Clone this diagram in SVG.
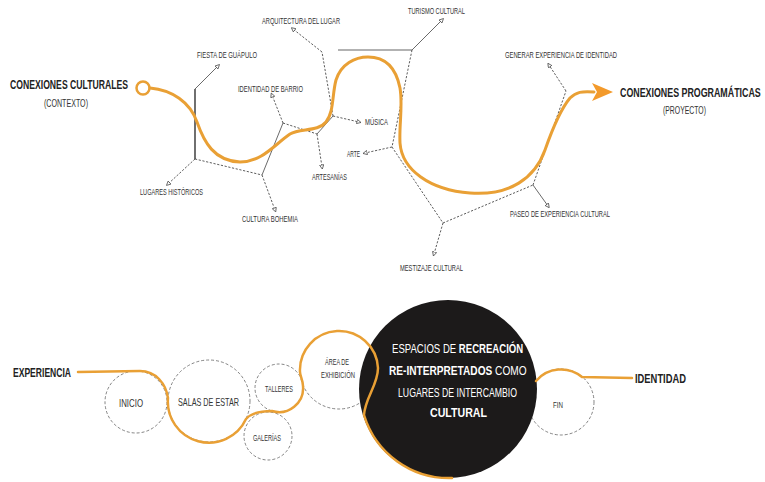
<svg xmlns="http://www.w3.org/2000/svg" width="765" height="482" viewBox="0 0 765 482">
<defs>
<style>
.lbl{font-family:"Liberation Sans",Arial,sans-serif;font-size:9px;fill:#333;}
.big{font-family:"Liberation Sans",Arial,sans-serif;font-size:12px;font-weight:bold;fill:#222;}
.sub{font-family:"Liberation Sans",Arial,sans-serif;font-size:11px;fill:#333;}
.cl{font-family:"Liberation Sans",Arial,sans-serif;fill:#333;}
.wt{font-family:"Liberation Sans",Arial,sans-serif;font-size:13px;fill:#fff;}
.b{font-weight:bold;}
.dl{fill:none;stroke:#333;stroke-width:0.8;stroke-dasharray:2.2 1.6;}
.sl{fill:none;stroke:#444;stroke-width:0.8;}
.dc{fill:none;stroke:#666;stroke-width:0.8;stroke-dasharray:3 2;}
.or{fill:none;stroke:#E9A035;stroke-linecap:round;stroke-linejoin:round;}
</style>
<marker id="tri" viewBox="0 0 6 6" refX="3" refY="3" markerWidth="5" markerHeight="5" markerUnits="userSpaceOnUse" orient="auto">
<path d="M0.5,0.5 L5.5,3 L0.5,5.5 z" fill="#fff" stroke="#333" stroke-width="0.8"/>
</marker>
</defs>
<rect width="765" height="482" fill="#fff"/>

<g id="connectors">
<path d="M195,89 L195,159" fill="none" stroke="#222" stroke-width="1.3"/>
<path class="sl" d="M195,89 L218,66" marker-end="url(#tri)"/>
<path class="dl" d="M195,159 L168,184" marker-end="url(#tri)"/>
<path class="dl" d="M195,159 L262,175"/>
<path class="dl" d="M262,175 L275,210" marker-end="url(#tri)"/>
<path class="sl" d="M262,175 L283,123"/>
<path class="dl" d="M283,123 L272,95" marker-end="url(#tri)"/>
<path class="dl" d="M283,123 L317,134"/>
<path class="dl" d="M317,134 L322,167" marker-end="url(#tri)"/>
<path class="sl" d="M317,134 L333,116"/>
<path class="dl" d="M333,116 L359,122" marker-end="url(#tri)"/>
<path class="dl" d="M333,116 L322,52"/>
<path class="dl" d="M322,52 L293,29" marker-end="url(#tri)"/>
<path d="M338,50 L412,50" fill="none" stroke="#999" stroke-width="1.5"/>
<path class="sl" d="M412,50 L442,20" marker-end="url(#tri)"/>
<path class="dl" d="M412,50 L392,147"/>
<path class="dl" d="M392,147 L365,153" marker-end="url(#tri)"/>
<path class="dl" d="M392,147 L443,223"/>
<path class="dl" d="M443,223 L434,254" marker-end="url(#tri)"/>
<path class="dl" d="M443,223 L533,185"/>
<path class="sl" d="M533,185 L548,206" marker-end="url(#tri)"/>
<path class="dl" d="M533,185 L566,91"/>
<path class="dl" d="M566,91 L549,65" marker-end="url(#tri)"/>
</g>

<g id="flow-top">
<circle cx="143" cy="88" r="6.5" fill="#fff" stroke="#E9A035" stroke-width="2.5"/>
<path class="or" stroke-width="3" d="M150,88 C172,90 190,102 197,122 C204,142 214,161 240,162 C262,162 274,145 290,134 C300,128 318,132 326,122 C334,112 332,95 336,80 C341,64 355,57 368,57 C385,57 396,68 400,88 C403,105 399,125 400,143 C402,170 430,190 470,193 C510,196 535,178 545,150 C552,130 560,110 570,98 C576,92 582,91 594,92"/>
<polygon points="613,92 592,83 597,92 592,101" fill="#F39A2B"/>
</g>

<g id="conexiones-culturales">
<text class="big" x="10" y="89" textLength="118" lengthAdjust="spacingAndGlyphs">CONEXIONES CULTURALES</text>
<text class="sub" x="44" y="107" textLength="44" lengthAdjust="spacingAndGlyphs">(CONTEXTO)</text>
</g>
<g id="conexiones-programaticas">
<text class="big" transform="translate(620,97) scale(0.7,1)" x="0" y="0" textLength="201" lengthAdjust="spacingAndGlyphs">CONEXIONES PROGRAMÁTICAS</text>
<text class="sub" x="663" y="114" textLength="43" lengthAdjust="spacingAndGlyphs">(PROYECTO)</text>
</g>

<g id="fiesta"><text class="lbl" x="197" y="58" textLength="60" lengthAdjust="spacingAndGlyphs">FIESTA DE GUÁPULO</text></g>
<g id="identidad-barrio"><text class="lbl" x="238" y="92" textLength="65" lengthAdjust="spacingAndGlyphs">IDENTIDAD DE BARRIO</text></g>
<g id="lugares"><text class="lbl" x="140" y="195" textLength="63" lengthAdjust="spacingAndGlyphs">LUGARES HISTÓRICOS</text></g>
<g id="bohemia"><text class="lbl" x="242" y="222" textLength="56" lengthAdjust="spacingAndGlyphs">CULTURA BOHEMIA</text></g>
<g id="artesanias"><text class="lbl" x="312" y="180" textLength="35" lengthAdjust="spacingAndGlyphs">ARTESANÍAS</text></g>
<g id="musica"><text class="lbl" x="365" y="125" textLength="23" lengthAdjust="spacingAndGlyphs">MÚSICA</text></g>
<g id="arte"><text class="lbl" x="347" y="157" textLength="13" lengthAdjust="spacingAndGlyphs">ARTE</text></g>
<g id="arquitectura"><text class="lbl" x="262" y="24" textLength="78" lengthAdjust="spacingAndGlyphs">ARQUITECTURA DEL LUGAR</text></g>
<g id="turismo"><text class="lbl" x="408" y="14" textLength="57" lengthAdjust="spacingAndGlyphs">TURISMO CULTURAL</text></g>
<g id="generar"><text class="lbl" x="505" y="58" textLength="112" lengthAdjust="spacingAndGlyphs">GENERAR EXPERIENCIA DE IDENTIDAD</text></g>
<g id="paseo"><text class="lbl" x="510" y="217" textLength="100" lengthAdjust="spacingAndGlyphs">PASEO DE EXPERIENCIA CULTURAL</text></g>
<g id="mestizaje"><text class="lbl" x="400" y="271" textLength="63" lengthAdjust="spacingAndGlyphs">MESTIZAJE CULTURAL</text></g>

<g id="inicio">
<circle class="dc" cx="136" cy="402" r="31"/>
<text class="cl" x="119" y="407" font-size="11" textLength="24" lengthAdjust="spacingAndGlyphs">INICIO</text>
</g>
<g id="salas">
<circle class="dc" cx="209" cy="401" r="41"/>
<text class="cl" x="178" y="406" font-size="11" textLength="61" lengthAdjust="spacingAndGlyphs">SALAS DE ESTAR</text>
</g>
<g id="talleres">
<circle class="dc" cx="279" cy="388" r="24"/>
<text class="cl" x="265" y="392" font-size="9" textLength="28" lengthAdjust="spacingAndGlyphs">TALLERES</text>
</g>
<g id="galerias">
<circle class="dc" cx="268" cy="436" r="24"/>
<text class="cl" x="253" y="441" font-size="9" textLength="28" lengthAdjust="spacingAndGlyphs">GALERÍAS</text>
</g>
<g id="area">
<circle class="dc" cx="339" cy="370" r="39"/>
<text class="cl" x="325" y="365" font-size="9" textLength="24" lengthAdjust="spacingAndGlyphs">ÁREA DE</text>
<text class="cl" x="321" y="378" font-size="9" textLength="34" lengthAdjust="spacingAndGlyphs">EXHIBICIÓN</text>
</g>
<g id="fin">
<circle class="dc" cx="561" cy="402" r="33"/>
<text class="cl" x="553" y="408" font-size="9" textLength="10" lengthAdjust="spacingAndGlyphs">FIN</text>
</g>

<g id="espacios">
<circle cx="448" cy="389" r="89" fill="#1c1a1a"/>
</g>

<g id="flow-bottom">
<path class="or" stroke-width="2.5" d="M78,372 L140,371 C156,371 166,384 168,398 A41,41 0 0 0 246,419 C252,412 262,411 272,411 A24,24 0 0 0 303,386 C303,380 300,376 300,372 A39,39 0 0 1 378,368 C378,385 365,398 364,415 A89,89 0 0 0 452,478"/>
<path class="or" stroke-width="2.5" d="M536,381 A33,33 0 0 1 582,377 L632,378"/>
</g>

<g id="espacios-text">
<text class="wt" transform="translate(392,353) scale(0.8,1)" x="0" y="0" textLength="164" lengthAdjust="spacingAndGlyphs">ESPACIOS DE <tspan class="b">RECREACIÓN</tspan></text>
<text class="wt" transform="translate(389,375) scale(0.8,1)" x="0" y="0" textLength="172" lengthAdjust="spacingAndGlyphs"><tspan class="b">RE-INTERPRETADOS</tspan> COMO</text>
<text class="wt" x="398" y="397" textLength="119" lengthAdjust="spacingAndGlyphs">LUGARES DE INTERCAMBIO</text>
<text class="wt b" x="430" y="417" textLength="57" lengthAdjust="spacingAndGlyphs">CULTURAL</text>
</g>

<g id="experiencia"><text class="big" x="13" y="377" font-size="11" textLength="58" lengthAdjust="spacingAndGlyphs">EXPERIENCIA</text></g>
<g id="identidad"><text class="big" x="635" y="383" font-size="11" textLength="51" lengthAdjust="spacingAndGlyphs">IDENTIDAD</text></g>
</svg>
